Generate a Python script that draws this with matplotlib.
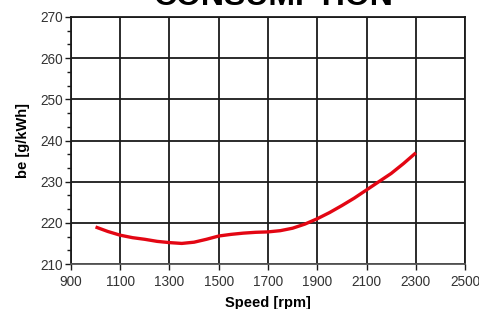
import matplotlib
matplotlib.use("Agg")
import matplotlib.pyplot as plt
from matplotlib.ticker import AutoMinorLocator, MultipleLocator

# engine speed [rpm] vs specific fuel consumption be [g/kWh]
speed = [1000, 1050, 1100, 1150, 1200, 1250, 1300, 1350, 1400, 1450, 1500,
         1550, 1600, 1650, 1700, 1750, 1800, 1850, 1900, 1950, 2000, 2050,
         2100, 2150, 2200, 2250, 2300]
be = [219.0, 217.9, 217.0, 216.4, 216.0, 215.5, 215.2, 215.0, 215.3, 216.0,
      216.8, 217.2, 217.5, 217.7, 217.8, 218.1, 218.7, 219.7, 221.0, 222.5,
      224.2, 226.0, 228.0, 230.0, 232.0, 234.4, 237.0]

x_ticks = [900, 1100, 1300, 1500, 1700, 1900, 2100, 2300, 2500]
TITLE = "CONSUMPTION"
X_LABEL = "Speed [rpm]"
Y_LABEL = "be [g/kWh]"

plt.rcParams["font.family"] = ["Liberation Sans", "DejaVu Sans"]

fig = plt.figure(figsize=(4.79, 3.09), dpi=100)
ax = fig.add_axes([0.148, 0.1456, 0.823, 0.7994])

ax.plot(speed, be, color="#e30613", lw=2.4, solid_capstyle="butt", zorder=3)

ax.set_xlim(900, 2500)
ax.set_ylim(210, 270)
ax.set_xticks(x_ticks)
ax.yaxis.set_major_locator(MultipleLocator(10))
ax.yaxis.set_minor_locator(AutoMinorLocator(3))

ax.grid(True, which="major", color="#1a1a1a", lw=1.3)
for s in ax.spines.values():
    s.set_color("#1a1a1a")
    s.set_linewidth(1.3)
ax.spines["bottom"].set_color("#555555")

ax.tick_params(axis="both", which="major", direction="out", length=4,
               width=1.0, color="#1a1a1a", labelsize=9.8, labelcolor="#333333",
               pad=2)
ax.tick_params(axis="y", which="minor", direction="out", length=3,
               width=1.0, color="#1a1a1a")
ax.tick_params(axis="x", which="major", pad=4)

ax.set_xlabel(X_LABEL, fontsize=10.5, fontweight="bold", labelpad=5)
ax.set_ylabel(Y_LABEL, fontsize=10.5, fontweight="bold", labelpad=7)

# the title sits partly above the top edge, as in the source picture
fig.text(0.571, 1.0 - 5 / 309, TITLE, fontsize=23, fontweight="bold",
         ha="center", va="baseline")

fig.savefig("out.png", dpi=100)
